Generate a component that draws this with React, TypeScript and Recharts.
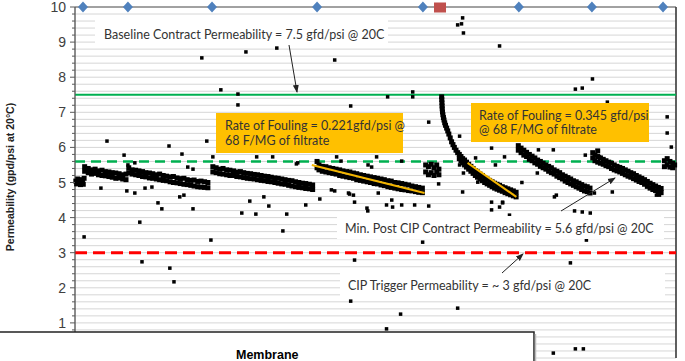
import { ScatterChart, Scatter, XAxis, YAxis, CartesianGrid, ReferenceLine } from "recharts";

type Pt = [number, number];

// x = days of operation, y = permeability (gfd/psi @ 20C)
const cipDays = [2.9, 19.2, 49.7, 87.8, 126.2, 161.0, 187.5, 213.3];
const upsetDays = [132.4];
const xGridDays = [0, 30, 60, 90, 120, 150, 180, 210];
const yMajorTicks = [0, 1, 2, 3, 4, 5, 6, 7, 8, 9, 10];

const baselinePerm = 7.5;
const minPostCipPerm = 5.6;
const cipTriggerPerm = 3;

const run1: Pt[] = [
  [0.3, 5.04], [0.6, 4.96], [1.0, 5.1], [1.3, 4.99], [1.7, 5.06], [2.0, 4.94], [2.4, 5.08], [2.7, 5.0], [3.0, 4.95], [3.3, 5.12],
  [3.5, 5.45], [3.5, 5.32], [4.8, 5.4], [4.8, 5.28], [6.0, 5.36], [6.0, 5.24], [7.3, 5.38], [7.3, 5.26], [8.5, 5.33], [8.5, 5.22],
  [9.8, 5.35], [9.8, 5.2], [11.0, 5.31], [11.0, 5.19], [12.3, 5.3], [12.3, 5.17], [13.5, 5.28], [13.5, 5.15], [14.8, 5.27], [14.8, 5.12],
  [16.0, 5.25], [16.0, 5.13], [17.3, 5.22], [17.3, 5.1], [18.5, 5.24], [18.5, 5.08],
];
const run2: Pt[] = [
  [19.5, 5.42], [19.5, 5.28], [20.7, 5.36], [20.7, 5.24], [22.0, 5.35], [22.0, 5.22], [23.2, 5.33], [23.2, 5.2], [24.5, 5.31], [24.5, 5.17],
  [25.7, 5.28], [25.7, 5.16], [27.0, 5.27], [27.0, 5.13], [28.2, 5.25], [28.2, 5.12], [29.5, 5.22], [29.5, 5.1], [30.7, 5.24], [30.7, 5.08],
  [32.0, 5.2], [32.0, 5.06], [33.2, 5.18], [33.2, 5.05], [34.5, 5.16], [34.5, 5.02], [35.7, 5.17], [35.7, 5.0], [37.0, 5.13], [37.0, 4.99],
  [38.2, 5.11], [38.2, 4.97], [39.5, 5.12], [39.5, 4.95], [40.7, 5.08], [40.7, 4.94], [42.0, 5.06], [42.0, 4.92], [43.2, 5.07], [43.2, 4.9],
  [44.5, 5.03], [44.5, 4.88], [45.7, 5.04], [45.7, 4.87], [47.0, 5.02], [47.0, 4.86], [48.2, 5.0], [48.2, 4.85],
];
const run3: Pt[] = [
  [50.0, 5.45], [50.0, 5.3], [51.2, 5.42], [51.2, 5.28], [52.5, 5.38], [52.5, 5.25], [53.7, 5.4], [53.7, 5.24], [55.0, 5.36], [55.0, 5.22],
  [56.2, 5.35], [56.2, 5.2], [57.5, 5.33], [57.5, 5.2], [58.7, 5.3], [58.7, 5.17], [60.0, 5.31], [60.0, 5.16], [61.2, 5.28], [61.2, 5.14],
  [62.5, 5.26], [62.5, 5.12], [63.7, 5.25], [63.7, 5.11], [65.0, 5.23], [65.0, 5.1], [66.2, 5.22], [66.2, 5.08], [67.5, 5.2], [67.5, 5.06],
  [68.7, 5.18], [68.7, 5.05], [70.0, 5.17], [70.0, 5.03], [71.2, 5.15], [71.2, 5.02], [72.5, 5.13], [72.5, 5.0], [73.7, 5.12], [73.7, 4.98],
  [75.0, 5.1], [75.0, 4.96], [76.2, 5.08], [76.2, 4.95], [77.5, 5.06], [77.5, 4.92], [78.7, 5.05], [78.7, 4.9], [80.0, 5.02], [80.0, 4.88],
  [81.2, 5.0], [81.2, 4.86], [82.5, 4.98], [82.5, 4.85], [83.7, 4.97], [83.7, 4.83], [85.0, 4.95], [85.0, 4.82], [86.2, 4.93], [86.2, 4.8],
];
const run4: Pt[] = [
  [87.8, 5.6], [87.8, 5.42], [88.5, 5.5], [88.5, 5.36], [89.7, 5.46], [89.7, 5.32], [91.0, 5.45], [91.0, 5.3], [92.2, 5.42], [92.2, 5.28],
  [93.5, 5.4], [93.5, 5.26], [94.7, 5.38], [94.7, 5.24], [96.0, 5.36], [96.0, 5.2], [97.2, 5.33], [97.2, 5.18], [98.5, 5.31], [98.5, 5.16],
  [99.7, 5.3], [99.7, 5.14], [101.0, 5.27], [101.0, 5.12], [102.2, 5.25], [102.2, 5.08], [103.5, 5.22], [103.5, 5.06], [104.7, 5.2], [104.7, 5.04],
  [106.0, 5.18], [106.0, 5.02], [107.2, 5.16], [107.2, 5.0], [108.5, 5.14], [108.5, 4.97], [109.7, 5.12], [109.7, 4.96], [111.0, 5.1], [111.0, 4.93],
  [112.2, 5.08], [112.2, 4.91], [113.5, 5.05], [113.5, 4.88], [114.7, 5.04], [114.7, 4.86], [116.0, 5.0], [116.0, 4.84], [117.2, 4.99], [117.2, 4.82],
  [118.5, 4.97], [118.5, 4.8], [119.7, 4.95], [119.7, 4.79], [121.0, 4.93], [121.0, 4.77], [122.2, 4.9], [122.2, 4.76], [123.5, 4.88], [123.5, 4.74],
  [124.7, 4.86], [124.7, 4.72], [126.0, 4.84], [126.0, 4.71],
];
const run5: Pt[] = [
  [127.2, 5.5], [127.2, 5.3], [128.2, 5.45], [128.2, 5.22], [129.2, 5.52], [129.2, 5.28], [130.2, 5.42], [130.2, 5.2], [131.2, 5.5], [131.2, 5.3], [132.0, 5.38], [132.0, 5.22],
];
const run6: Pt[] = [
  [133.0, 7.44], [133.05, 7.36], [133.1, 7.27], [133.15, 7.18], [133.2, 7.1], [133.3, 7.01], [133.45, 6.93], [133.65, 6.85], [133.85, 6.78], [134.1, 6.7],
  [134.4, 6.63], [134.8, 6.55], [135.2, 6.47], [135.6, 6.38], [136.1, 6.27], [136.6, 6.16], [137.1, 6.08], [137.6, 6.0], [138.2, 5.92], [138.8, 5.85],
  [139.4, 5.8], [139.4, 5.68], [140.0, 5.74], [140.0, 5.62], [140.6, 5.68], [140.6, 5.56], [141.3, 5.64], [141.3, 5.5], [142.0, 5.58], [142.0, 5.44],
  [142.8, 5.52], [142.8, 5.38], [143.6, 5.46], [143.6, 5.32], [144.4, 5.4], [144.4, 5.26], [145.2, 5.34], [145.2, 5.2], [146.0, 5.3], [146.0, 5.15],
  [146.9, 5.24], [146.9, 5.1], [147.8, 5.2], [147.8, 5.05], [148.6, 5.14], [148.6, 5.0], [149.5, 5.1], [149.5, 4.96], [150.4, 5.06], [150.4, 4.92],
  [151.3, 5.02], [151.3, 4.88], [152.2, 4.98], [152.2, 4.84], [153.1, 4.95], [153.1, 4.81], [154.0, 4.92], [154.0, 4.78], [155.0, 4.88], [155.0, 4.75],
  [156.0, 4.85], [156.0, 4.71], [157.0, 4.82], [157.0, 4.68], [158.0, 4.79], [158.0, 4.65], [159.0, 4.76], [159.0, 4.62], [160.0, 4.72], [160.0, 4.59],
];
const run7: Pt[] = [
  [160.8, 6.05], [160.8, 5.92], [161.8, 5.98], [161.8, 5.85], [162.8, 5.92], [162.8, 5.78], [163.8, 5.86], [163.8, 5.74], [164.8, 5.8], [164.8, 5.66],
  [165.8, 5.75], [165.8, 5.62], [166.8, 5.7], [166.8, 5.56], [167.8, 5.64], [167.8, 5.52], [168.8, 5.6], [168.8, 5.46], [169.8, 5.55], [169.8, 5.42],
  [170.8, 5.5], [170.8, 5.38], [171.8, 5.46], [171.8, 5.32], [172.8, 5.42], [172.8, 5.28], [173.8, 5.36], [173.8, 5.24], [174.8, 5.32], [174.8, 5.18],
  [175.8, 5.28], [175.8, 5.14], [176.8, 5.22], [176.8, 5.1], [177.8, 5.18], [177.8, 5.04], [178.8, 5.14], [178.8, 5.0], [179.8, 5.1], [179.8, 4.96],
  [180.8, 5.05], [180.8, 4.92], [181.8, 5.02], [181.8, 4.88], [182.8, 4.98], [182.8, 4.84], [183.8, 4.94], [183.8, 4.8], [184.8, 4.9], [184.8, 4.76],
  [185.8, 4.88], [185.8, 4.74], [186.8, 4.84], [186.8, 4.7],
];
const run8: Pt[] = [
  [187.8, 5.85], [187.8, 5.7], [188.6, 5.78], [188.6, 5.62], [189.6, 5.9], [189.6, 5.74], [189.6, 5.58], [190.6, 5.7], [190.6, 5.55], [191.6, 5.66], [191.6, 5.52],
  [192.6, 5.62], [192.6, 5.48], [193.6, 5.58], [193.6, 5.45], [194.6, 5.55], [194.6, 5.4], [195.6, 5.5], [195.6, 5.36], [196.6, 5.46], [196.6, 5.33],
  [197.6, 5.43], [197.6, 5.3], [198.6, 5.4], [198.6, 5.26], [199.6, 5.36], [199.6, 5.22], [200.6, 5.32], [200.6, 5.18], [201.6, 5.28], [201.6, 5.15],
  [202.6, 5.25], [202.6, 5.11], [203.6, 5.2], [203.6, 5.07], [204.6, 5.16], [204.6, 5.03], [205.6, 5.12], [205.6, 5.0], [206.6, 5.08], [206.6, 4.95],
  [207.6, 5.03], [207.6, 4.89], [208.6, 4.98], [208.6, 4.84], [209.6, 4.94], [209.6, 4.8], [210.6, 4.9], [210.6, 4.77], [211.6, 4.86], [211.6, 4.74],
  [212.6, 4.83], [212.6, 4.71],
];
const run9: Pt[] = [
  [213.8, 5.62], [213.8, 5.45], [214.8, 5.68], [214.8, 5.5], [215.8, 5.6], [215.8, 5.44], [216.8, 5.55], [216.8, 5.42], [217.5, 5.5],
];

const outliers: Pt[] = [
  [46.0, 8.55], [52.9, 7.64], [59.1, 7.52], [59.1, 7.21], [11.6, 6.18], [34.1, 6.04], [47.8, 6.18], [17.8, 5.78], [19.2, 5.5], [21.7, 5.56],
  [50.0, 5.73], [40.9, 5.44], [3.3, 3.45], [9.4, 4.84], [18.8, 4.76], [21.7, 4.7], [23.5, 3.87], [24.3, 2.74], [25.4, 4.84], [27.9, 4.87],
  [30.1, 4.42], [31.5, 4.25], [34.4, 2.56], [35.9, 2.17], [38.0, 4.59], [39.5, 4.64], [42.8, 4.25], [49.3, 3.36], [62.0, 8.72], [73.2, 8.83],
  [94.2, 8.49], [100.0, 7.18], [113.4, 7.44], [122.5, 7.58], [122.5, 7.44], [128.3, 6.72], [138.8, 9.49], [65.9, 5.73], [71.7, 5.73], [80.8, 5.56],
  [94.9, 5.73], [109.4, 5.73], [118.5, 5.61], [107.6, 5.44], [63.4, 4.47], [65.6, 4.1], [70.3, 4.33], [68.5, 4.59], [76.8, 4.1], [75.4, 3.62],
  [83.7, 4.36], [88.8, 4.53], [94.2, 4.76], [101.4, 4.44], [99.6, 4.67], [106.2, 4.19], [113.0, 4.36], [115.2, 4.3], [118.5, 4.36], [123.2, 4.36],
  [128.3, 4.33], [126.1, 3.3], [101.4, 2.79], [100.0, 1.62], [118.1, 1.25], [128.3, 1.85], [113.0, 0.83], [138.8, 1.42], [140.6, 9.69], [140.2, 9.52],
  [140.9, 9.26], [154.0, 8.89], [187.7, 7.95], [181.5, 7.66], [184.0, 7.69], [193.1, 7.29], [214.8, 6.87], [214.8, 6.41], [216.3, 6.01], [139.5, 6.32],
  [151.1, 5.98], [168.1, 5.93], [173.5, 5.93], [155.8, 5.73], [152.5, 5.5], [145.3, 5.7], [167.7, 5.27], [185.1, 5.78], [190.2, 5.73], [140.6, 4.73],
  [151.1, 4.22], [154.0, 4.3], [155.1, 4.42], [157.6, 4.07], [173.9, 4.59], [174.6, 4.64], [181.2, 4.19], [184.0, 4.16], [186.9, 4.13], [188.4, 4.7],
  [194.9, 4.73], [185.5, 3.36], [179.7, 2.71], [173.5, 0.14], [181.5, 0.26], [184.4, 0.26], [210.9, 4.64], [212.0, 4.64], [60.5, 4.13], [93.0, 4.79],
  [99.2, 4.7], [101.0, 4.64], [110.0, 4.7], [105.9, 4.27], [114.9, 4.5], [80.3, 5.53], [96.5, 5.61], [106.3, 5.5], [146.1, 5.01], [162.1, 5.0],
  [151.1, 4.44], [155.1, 4.44], [131.9, 4.96], [139.5, 5.5], [140.9, 5.27], [38.8, 5.81], [42.8, 5.38],
];

const fouling1: Pt[] = [[85.9, 5.5], [126.8, 4.7]];
const fouling2: Pt[] = [[142.4, 5.56], [160.1, 4.59]];

const toXY = (pts: Pt[]) => pts.map(([x, y]) => ({ x, y }));
const bandData = toXY([...run1, ...run2, ...run3, ...run4, ...run5, ...run6, ...run7, ...run8, ...run9]);
const yTicks = yMajorTicks.flatMap((v) => (v < 10 ? [v, v + 0.2, v + 0.4, v + 0.6, v + 0.8] : [v])).map((v) => Math.round(v * 10) / 10);

const font = "'Liberation Sans', Arial, sans-serif";
const noteFont = "Lato, 'Open Sans', sans-serif";

function YTick({ x, y, payload }: any) {
  const v = payload.value;
  const major = Math.abs(v - Math.round(v)) < 0.001;
  return (
    <g>
      <line x1={x - (major ? 5 : 3)} x2={x} y1={y} y2={y} stroke="#595959" />
      {major && v > 0 && (
        <text x={x - 9} y={y} dy={5} textAnchor="end" fill="#404040" fontSize={14} fontFamily={font}>
          {v}
        </text>
      )}
    </g>
  );
}

const Dot = (size: number) => (p: any) => <rect x={p.cx - size / 2} y={p.cy - size / 2} width={size} height={size} fill="#000" />;
const Diamond = (p: any) => <polygon points={`${p.cx},${p.cy - 5.5} ${p.cx + 5},${p.cy} ${p.cx},${p.cy + 5.5} ${p.cx - 5},${p.cy}`} fill="#4F81BD" />;
const RedBox = (p: any) => <rect x={p.cx - 6} y={p.cy - 4.5} width={12} height={10} fill="#C0504D" />;
const NoDot = () => <g />;

export default function App() {
  return (
    <div style={{ position: "absolute", left: 0, top: 0, width: 685, height: 361, background: "#fff", overflow: "hidden" }}>
      <ScatterChart width={685} height={361} margin={{ top: 7, right: 9, bottom: 3, left: 0 }}>
        <CartesianGrid vertical={false} stroke="#d6d6d6" />
        <CartesianGrid horizontal={false} stroke="#7f7f7f" />
        <XAxis type="number" dataKey="x" domain={[0, 218]} ticks={xGridDays} tick={false} tickLine={false} height={0} axisLine={{ stroke: "#000", strokeWidth: 2.5 }} />
        <YAxis
          type="number"
          dataKey="y"
          domain={[0, 10]}
          ticks={yTicks}
          interval={0}
          width={75}
          tickSize={0}
          tickMargin={0}
          tick={<YTick />}
          axisLine={{ stroke: "#595959" }}
        />
        <ReferenceLine y={10} stroke="#595959" />
        <ReferenceLine x={218} stroke="#404040" strokeWidth={1.5} />
        <ReferenceLine y={baselinePerm} stroke="#00B050" strokeWidth={2} />
        <ReferenceLine y={minPostCipPerm} stroke="#00B050" strokeWidth={2.5} strokeDasharray="10 6" />
        <ReferenceLine y={cipTriggerPerm} stroke="#FF0000" strokeWidth={3} strokeDasharray="12 6" />
        <Scatter data={bandData} shape={Dot(5)} isAnimationActive={false} />
        <Scatter data={toXY(outliers)} shape={Dot(3.5)} isAnimationActive={false} />
        <Scatter data={toXY(fouling1)} line={{ stroke: "#F2B400", strokeWidth: 2 }} shape={NoDot} isAnimationActive={false} />
        <Scatter data={toXY(fouling2)} line={{ stroke: "#F2B400", strokeWidth: 2 }} shape={NoDot} isAnimationActive={false} />
        <Scatter data={cipDays.map((x) => ({ x, y: 10 }))} shape={Diamond} isAnimationActive={false} />
        <Scatter data={upsetDays.map((x) => ({ x, y: 10 }))} shape={RedBox} isAnimationActive={false} />
      </ScatterChart>

      <svg width={685} height={361} style={{ position: "absolute", left: 0, top: 0, pointerEvents: "none" }}>
        <defs>
          <marker id="head" markerWidth="8" markerHeight="8" refX="7" refY="4" orient="auto" markerUnits="userSpaceOnUse">
            <path d="M0,1 L8,4 L0,7 z" fill="#222" />
          </marker>
        </defs>
        <text transform="translate(14,177) rotate(-90)" textAnchor="middle" fontSize={10.5} fontWeight="bold" fontFamily={font} fill="#222">
          Permeability (gpd/psi at 20°C)
        </text>

        <rect x={95} y={20} width={293} height={25} fill="#fff" />
        <text x={104} y={39} fontSize={12.5} fontFamily={noteFont} fill="#333">Baseline Contract Permeability = 7.5 gfd/psi @ 20C</text>
        <line x1={289} y1={45} x2={297} y2={92} stroke="#222" strokeWidth={1} markerEnd="url(#head)" />

        <rect x={216} y={113} width={187} height={40} fill="#FFC000" />
        <text x={225} y={130} fontSize={12.5} fontFamily={noteFont} fill="#333">Rate of Fouling = 0.221gfd/psi @</text>
        <text x={225} y={145} fontSize={12.5} fontFamily={noteFont} fill="#333">68 F/MG of filtrate</text>

        <rect x={471} y={103} width={178} height={39} fill="#FFC000" />
        <text x={479} y={120} fontSize={12.5} fontFamily={noteFont} fill="#333">Rate of Fouling = 0.345 gfd/psi</text>
        <text x={479} y={134} fontSize={12.5} fontFamily={noteFont} fill="#333">@ 68 F/MG of filtrate</text>

        <rect x={337} y={216} width={327} height={23} fill="#fff" />
        <text x={345} y={233} fontSize={12.5} fontFamily={noteFont} fill="#333">Min. Post CIP Contract Permeability = 5.6 gfd/psi @ 20C</text>
        <line x1={561} y1={211} x2={615} y2={178} stroke="#222" strokeWidth={1} markerEnd="url(#head)" />

        <rect x={340} y={273} width={325} height={25} fill="#fff" />
        <text x={348} y={290} fontSize={12.5} fontFamily={noteFont} fill="#333">CIP Trigger Permeability = ~ 3 gfd/psi @ 20C</text>
        <line x1={502} y1={273} x2={523} y2={254} stroke="#222" strokeWidth={1} markerEnd="url(#head)" />

        <rect x={-2} y={332} width={536} height={40} fill="#fff" stroke="#222" strokeWidth={1.5} />
        <line x1={535.5} y1={334} x2={535.5} y2={361} stroke="#bbb" strokeWidth={1.5} />
        <text x={236} y={359} fontSize={12.5} fontWeight="bold" fontFamily={font} fill="#000">Membrane</text>
      </svg>
    </div>
  );
}
